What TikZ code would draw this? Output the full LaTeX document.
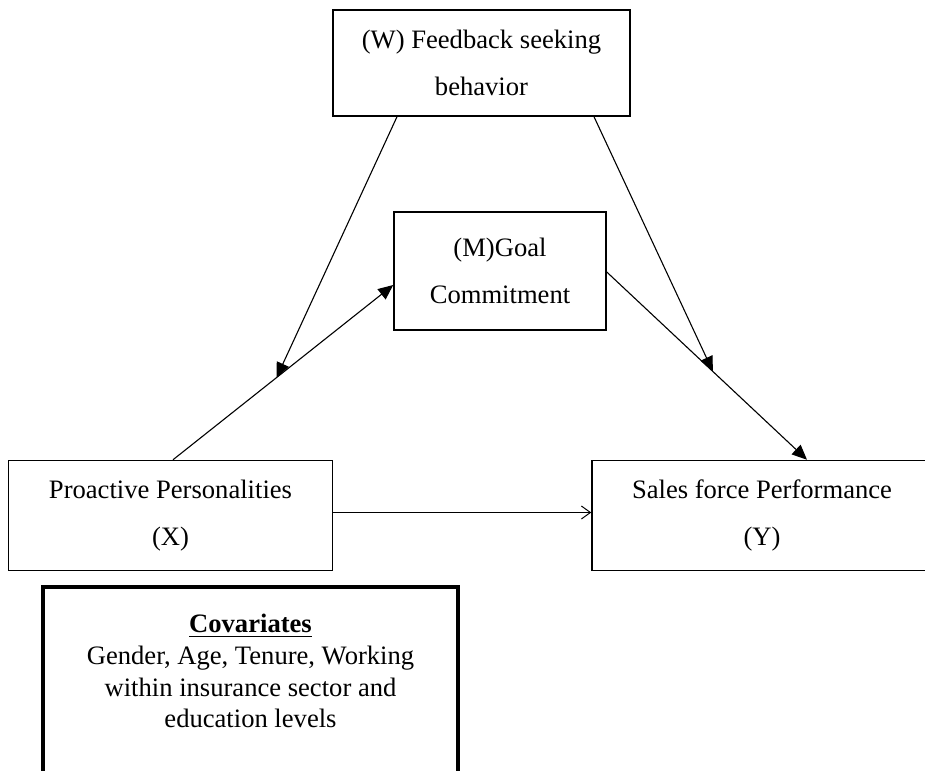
\documentclass[tikz,border=0pt]{standalone}
\usepackage{fontspec}
\setmainfont{Liberation Serif}
\usetikzlibrary{arrows.meta,calc}
\begin{document}
\begin{tikzpicture}[x=0.5pt,y=-0.5pt,
  box/.style={draw, line width=0.75pt, rectangle, inner sep=0pt, align=center, font=\fontsize{13.3}{23.5}\selectfont},
  covbox/.style={draw, line width=2pt, rectangle, inner sep=0pt},
  covtxt/.style={anchor=north, align=center, inner sep=0pt, font=\fontsize{13.3}{15.8}\selectfont},
  link/.style={line width=0.55pt},
  solidtip/.style={-{Triangle[length=7.5pt,width=6.5pt]}},
  opentip/.style={-{Straight Barb[length=4.5pt,width=6.5pt,line width=0.5pt]}}
]
\useasboundingbox (0,0) rectangle (925,770);
\node[box, minimum width=148.5pt, minimum height=53pt] (W) at (481.5,63) {(W) Feedback seeking\\behavior};
\node[box, minimum width=106pt, minimum height=59pt] (M) at (500,271) {(M)Goal\\Commitment};
\node[box, minimum width=162pt, minimum height=55pt] (X) at (170.5,515.5) {Proactive Personalities\\(X)};
\node[box, minimum width=170pt, minimum height=55pt] (Y) at (762,515.5) {Sales force Performance\\(Y)};
\node[covbox, minimum width=207.5pt, minimum height=113pt] (cov) at (250.5,700) {};
\node[covtxt] (covtext) at (250.5,614) {\underline{\textbf{Covariates}}\\Gender, Age, Tenure, Working\\within insurance sector and\\education levels};

\draw[link,solidtip] ([xshift=1.25pt]X.north) -- ([yshift=-7pt]M.west) coordinate[pos=0.47] (modA);
\draw[link,solidtip] ([xshift=-42.25pt]W.south) -- (modA);
\draw[link,solidtip] ([yshift=-0.5pt]M.east) -- ([xshift=22.5pt]Y.north) coordinate[pos=0.53] (modB);
\draw[link,solidtip] ([xshift=56.25pt]W.south) -- (modB);
\draw[link,opentip] ([yshift=1.5pt]X.east) -- ([yshift=1.5pt]Y.west);
\end{tikzpicture}
\end{document}
